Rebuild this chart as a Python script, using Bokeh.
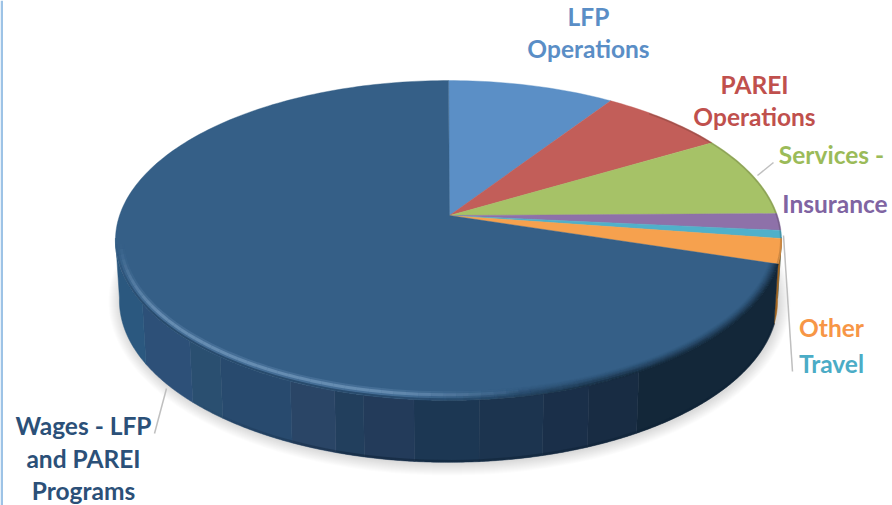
import numpy as np
from bokeh.plotting import figure
from bokeh.models import Range1d
from bokeh.core.properties import value
from bokeh.embed import file_html
from bokeh.resources import INLINE

# ---- data (share of total, %) ----
categories = ["LFP Operations", "PAREI Operations", "Services", "Insurance", "Travel", "Other", "Wages - LFP and PAREI Programs"]
shares = [9.4, 7.2, 8.2, 1.7, 0.8, 2.5, 70.2]
top_colors = ["#5b8fc6", "#c25e59", "#a6c267", "#8e71a9", "#50b0ca", "#f6a14e", "#355f87"]

label_lines = ["LFP", "Operations", "PAREI", "Operations", "Services -", "Insurance", "Other", "Travel",
               "Wages - LFP", "and PAREI", "Programs"]
label_colors = ["#5a8ec6", "#5a8ec6", "#c0504d", "#c0504d", "#9bbb59", "#8064a2", "#f79646", "#4bacc6",
                "#2b5078", "#2b5078", "#2b5078"]
label_x = [588, 588, 754, 754, 831, 834.5, 831, 831, 83, 83, 83]
label_y = [15.5, 47.5, 83.5, 115.5, 153.5, 202.5, 326.5, 362.5, 424.5, 457.5, 489.5]

leader_x = [[757, 773], [783, 792], [166, 154]]
leader_y = [[175, 162], [235, 371], [388, 433]]

# stepped colours seen on the front wall, left to right
wall_band_edges = [110, 142, 190, 220, 290, 335, 365, 415, 480, 545, 590, 640, 900]
wall_band_colors = ["#2b587f", "#2d5078", "#2a4f70", "#284a6e", "#2a4566", "#223f5d",
                    "#233b5a", "#1c3753", "#1c344f", "#1a2f49", "#182c43", "#132739"]

# ---- pie geometry ----
APEX_X, APEX_Y = 449, 215
TOP_CX, TOP_CY, TOP_RX, TOP_RY = 448, 240, 333, 160
BOT_CX, BOT_CY, BOT_RX, BOT_RY = 448, 300, 329, 162
K = 0.156


def rim_uv(t):
    w = 1 + K * np.cos(t)
    sx = 329 * np.sin(t) / w
    sy = APEX_Y - 156 * np.cos(t) / w
    return sx / TOP_RX, (sy - TOP_CY) / TOP_RY


def top_xy(t, inset=0.0):
    u, v = rim_uv(t)
    return TOP_CX + (TOP_RX - inset) * u, TOP_CY + (TOP_RY - inset) * v


def bot_xy(t):
    u, v = rim_uv(t)
    return BOT_CX + BOT_RX * u, BOT_CY + BOT_RY * v


edges = np.concatenate([[0], np.cumsum(shares)]) / sum(shares) * 2 * np.pi

p = figure(width=892, height=505, output_backend="svg", toolbar_location=None,
           x_range=Range1d(0, 892), y_range=Range1d(505, 0), min_border=0,
           outline_line_color=None, background_fill_color="white", border_fill_color="white")
p.axis.visible = False
p.grid.visible = False

p.quad(left=[0], right=[2.5], top=[0], bottom=[505], fill_color="#9dc3e6", line_color=None)

# soft shadow
ang = np.linspace(0, 2 * np.pi, 240)
for d in range(12, 0, -1):
    p.patch(BOT_CX + 1 + (BOT_RX + d) * np.cos(ang), BOT_CY + 1 + (BOT_RY + d) * np.sin(ang),
            fill_color="#000000", fill_alpha=0.011, line_color=None)

# side wall: one polygon per run of equal colour
wall_xs, wall_ys, wall_cs = [], [], []
for i in range(len(shares)):
    ts = np.linspace(edges[i], edges[i + 1], max(3, int((edges[i + 1] - edges[i]) / 0.006)))
    ts = ts[rim_uv(ts)[1] >= -0.02]
    if len(ts) < 2:
        continue
    xm = top_xy(ts)[0]
    if categories[i] == "Other":
        cols = ["#a2651f"] * len(ts)
    elif categories[i] == "Travel":
        cols = ["#2d6d80"] * len(ts)
    else:
        idx = np.clip(np.searchsorted(wall_band_edges, xm) - 1, 0, len(wall_band_colors) - 1)
        cols = [wall_band_colors[j] for j in idx]
    start = 0
    for k in range(1, len(ts) + 1):
        if k == len(ts) or cols[k] != cols[start]:
            run = ts[start:min(k + 1, len(ts))]
            if len(run) >= 2:
                ax, ay = top_xy(run)
                bx, by = bot_xy(run)
                wall_xs.append(np.concatenate([ax, bx[::-1]]).tolist())
                wall_ys.append(np.concatenate([ay, by[::-1]]).tolist())
                wall_cs.append(cols[start])
            start = k
p.patches(wall_xs, wall_ys, fill_color=wall_cs, line_color=wall_cs, line_width=0.5)

# dark lower edge of the wall
ts = np.linspace(edges[6], 2 * np.pi, 120)
lx, ly = bot_xy(ts)
us, vs = rim_uv(ts)
keep = [k for k in range(len(ts) - 1) if us[k] > -0.75 and vs[k] > 0]
seg_x = [[lx[k], lx[k + 1]] for k in keep]
seg_y = [[ly[k] - 1.2, ly[k + 1] - 1.2] for k in keep]
seg_a = [float(np.clip((us[k] + 0.75) / 0.5, 0, 1) * 0.5) for k in keep]
p.multi_line(seg_x, seg_y, line_color="#0e2136", line_alpha=seg_a, line_width=2.4)

# upper face slices
xs, ys = [], []
for i in range(len(shares)):
    ts = np.linspace(edges[i], edges[i + 1], max(8, int((edges[i + 1] - edges[i]) / 0.02)))
    rx, ry = top_xy(ts)
    xs.append(np.concatenate([[APEX_X], rx]).tolist())
    ys.append(np.concatenate([[APEX_Y], ry]).tolist())
p.patches(xs, ys, fill_color=top_colors, line_color=top_colors, line_width=0.4)

# dark blur where the upper face meets the wall on the right
ts = np.linspace(edges[6], 2 * np.pi - 0.5, 90)
for d in range(0, 10):
    sx, sy, sa = [], [], []
    for t0, t1 in zip(ts[:-1], ts[1:]):
        x0, y0 = top_xy(t0, d)
        x1, y1 = top_xy(t1, d)
        um = rim_uv((t0 + t1) / 2)[0]
        s = float(np.clip((um + 0.1) / 0.6, 0, 1))
        sx.append([x0, x1])
        sy.append([y0, y1])
        sa.append(s * (1 - d / 10) ** 1.6 * 0.9)
    p.multi_line(sx, sy, line_color="#132739", line_alpha=sa, line_width=1.3)

# rim transition and bevel highlight on the left / front
for inset, width, peak, col in ((5.5, 7, 0.22, "#7fa6cc"), (5.5, 3, 0.5, "#86a9cc"), (1, 2, 0.6, "#1f3d5c")):
    ts = np.linspace(edges[6], 2 * np.pi - 0.5, 120)
    sx, sy, sa = [], [], []
    for t0, t1 in zip(ts[:-1], ts[1:]):
        x0, y0 = top_xy(t0, inset)
        x1, y1 = top_xy(t1, inset)
        u, v = rim_uv((t0 + t1) / 2)
        s = float(np.clip((0.25 - u) / 0.45, 0, 1) * np.clip((v - 0.02) / 0.45, 0, 1))
        sx.append([x0, x1])
        sy.append([y0, y1])
        sa.append(s * peak)
    p.multi_line(sx, sy, line_color=col, line_alpha=sa, line_width=width)

# thin dark rim along the upper right of the coloured slices
ts = np.linspace(0.75, edges[6], 50)
rx, ry = top_xy(ts, 0.8)
p.line(rx, ry, line_color="#201a10", line_alpha=0.18, line_width=1.6)

# leader lines
p.multi_line(leader_x, leader_y, line_color="#bfbfbf", line_width=1.5)

# labels
p.text(label_x, label_y, text=label_lines, text_color=label_colors, text_font=value("Lato"),
       text_font_style="bold", text_font_size="24.5px", text_align="center", text_baseline="middle")

open("out.html", "w").write(file_html(p, INLINE))
